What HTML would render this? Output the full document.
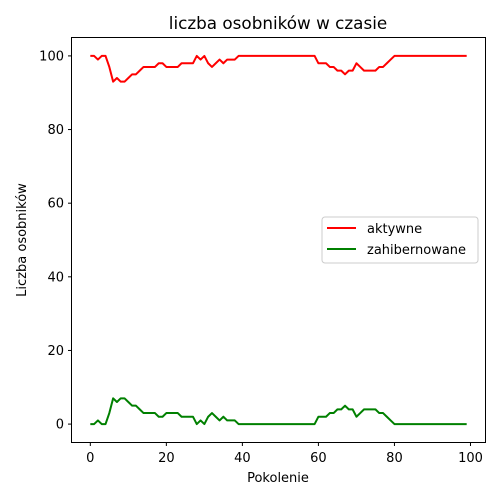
<!DOCTYPE html>
<html><head><meta charset="utf-8"><style>body{margin:0;background:#fff}svg{display:block;font-family:"DejaVu Sans","Liberation Sans",sans-serif}</style></head>
<body>
<svg id="chart" width="500" height="500">
<rect x="0" y="0" width="500" height="500" fill="#fff"/>
<text x="278" y="29" font-size="16.8" text-anchor="middle" fill="#000">liczba osobników w czasie</text>
<g id="grid"></g>
<g id="series"></g>
<rect x="71.5" y="37.5" width="414" height="405" fill="none" stroke="#000" stroke-width="1"/>
<text x="278" y="482" font-size="13" text-anchor="middle">Pokolenie</text>
<text transform="translate(26,240) rotate(-90)" font-size="13" text-anchor="middle">Liczba osobników</text>
<g>
<rect x="322" y="217" width="156" height="46" rx="3" fill="#fff" fill-opacity="0.8" stroke="#ccc"/>
<line x1="327" y1="228" x2="356" y2="228" stroke="red" stroke-width="2"/>
<text x="367" y="233" font-size="13">aktywne</text>
<line x1="327" y1="249" x2="356" y2="249" stroke="green" stroke-width="2"/>
<text x="367" y="254" font-size="13">zahibernowane</text>
</g>
</svg>
<script>
const xTicks = [0, 20, 40, 60, 80, 100];
const yTicks = [0, 20, 40, 60, 80, 100];
const hibernated = [0,0,1,0,0,3,7,6,7,7, 6,5,5,4,3,3,3,3,2,2, 3,3,3,3,2,2,2,2,0,1, 0,2,3,2,1,2,1,1,1,0,
 0,0,0,0,0,0,0,0,0,0, 0,0,0,0,0,0,0,0,0,0, 2,2,2,3,3,4,4,5,4,4, 2,3,4,4,4,4,3,3,2,1,
 0,0,0,0,0,0,0,0,0,0, 0,0,0,0,0,0,0,0,0,0];
const active = [100,100,99,100,100,97,93,94,93,93, 94,95,95,96,97,97,97,97,98,98, 97,97,97,97,98,98,98,98,100,99, 100,98,97,98,99,98,99,99,99,100,
 100,100,100,100,100,100,100,100,100,100, 100,100,100,100,100,100,100,100,100,100, 98,98,98,97,97,96,96,95,96,96, 98,97,96,96,96,96,97,97,98,99,
 100,100,100,100,100,100,100,100,100,100, 100,100,100,100,100,100,100,100,100,100];
const NS='http://www.w3.org/2000/svg';
const x = v => 71.5 + (v + 4.95) / 108.9 * 414;
const y = v => 442.5 - (v + 5) / 110 * 405;
const grid = document.getElementById('grid');
xTicks.forEach(t => {
  const l = document.createElementNS(NS,'line');
  l.setAttribute('x1',x(t)); l.setAttribute('x2',x(t)); l.setAttribute('y1',442.5); l.setAttribute('y2',446);
  l.setAttribute('stroke','#000');
  
  
  grid.appendChild(l);
  const tx = document.createElementNS(NS,'text');
  tx.setAttribute('x',x(t)); tx.setAttribute('y',462); tx.setAttribute('font-size','13'); tx.setAttribute('text-anchor','middle');
  tx.textContent = t;
  
  
  grid.appendChild(tx);
});
yTicks.forEach(t => {
  const l = document.createElementNS(NS,'line');
  l.setAttribute('x1',68); l.setAttribute('x2',71.5); l.setAttribute('y1',y(t)); l.setAttribute('y2',y(t));
  l.setAttribute('stroke','#000');
  
  
  grid.appendChild(l);
  const tx = document.createElementNS(NS,'text');
  tx.setAttribute('x',64); tx.setAttribute('y',y(t)+4.5); tx.setAttribute('font-size','13'); tx.setAttribute('text-anchor','end');
  tx.textContent = t;
  
  
  grid.appendChild(tx);
});
const series = document.getElementById('series');
function drawLine(vals, color, name) {
  const p = document.createElementNS(NS,'polyline');
  p.setAttribute('points', vals.map((v,i)=>x(i)+','+y(v)).join(' '));
  p.setAttribute('fill','none'); p.setAttribute('stroke',color); p.setAttribute('stroke-width','2');
  p.setAttribute('stroke-linejoin','round');
  
  
  series.appendChild(p);
}
drawLine(active,'red','line-aktywne');
drawLine(hibernated,'green','line-zahibernowane');
</script>
</body></html>
